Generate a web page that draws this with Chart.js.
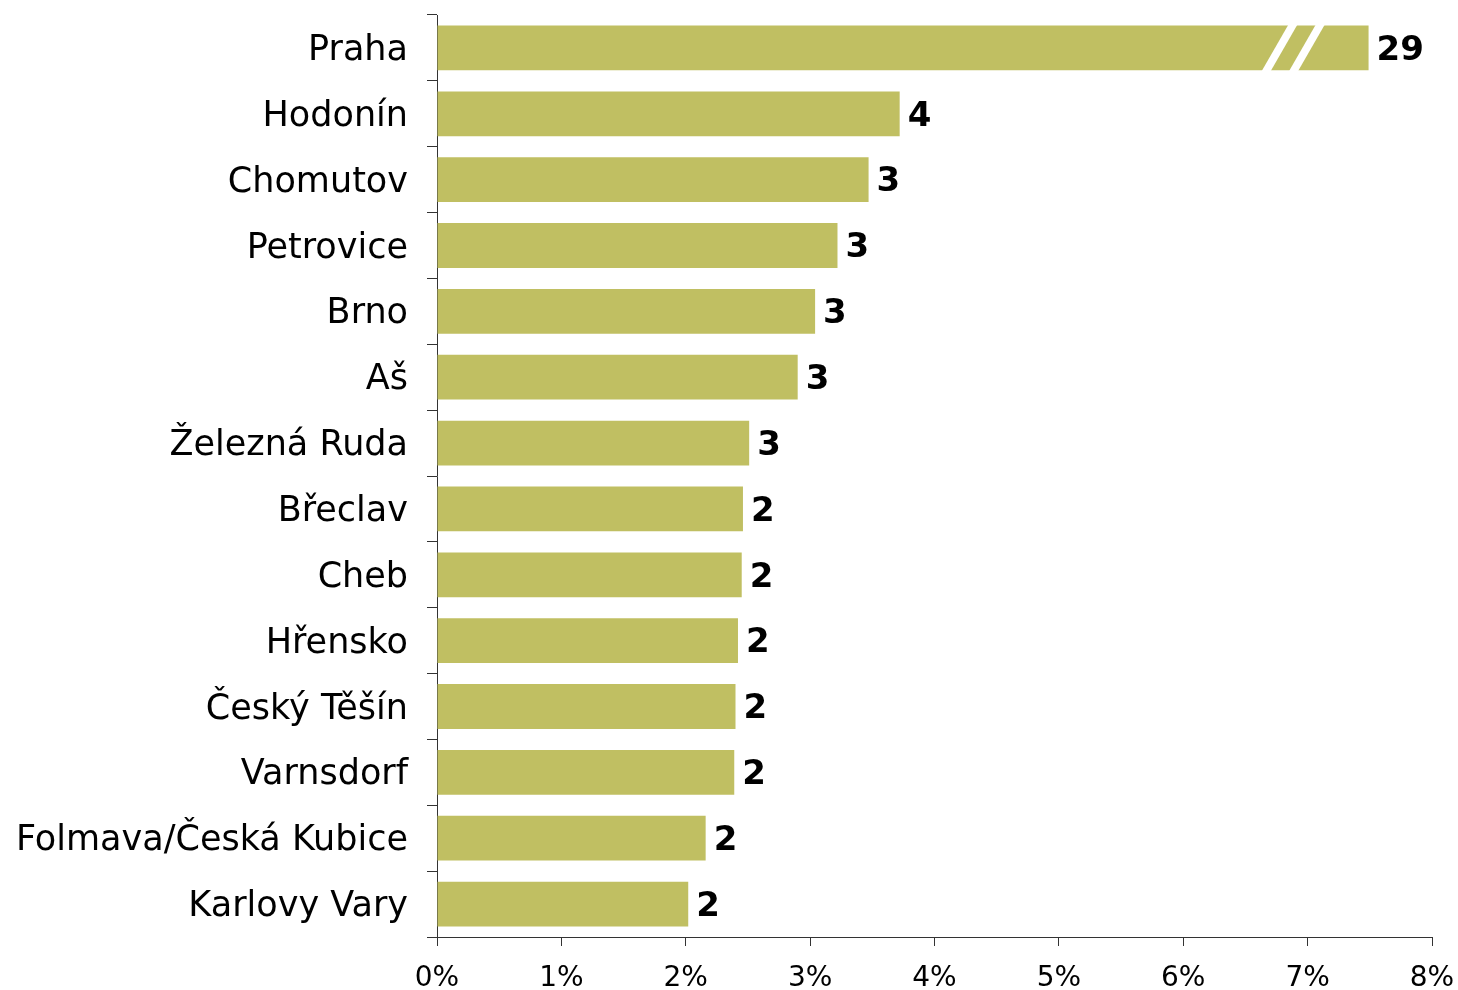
<!DOCTYPE html>
<html>
<head>
<meta charset="utf-8">
<script src="https://cdn.jsdelivr.net/npm/chart.js@4/dist/chart.umd.min.js"></script>
<style>
  html, body { margin: 0; padding: 0; background: #fff; }
  #wrap { width: 1458px; height: 990px; position: relative; }
</style>
</head>
<body>
<div id="wrap"><canvas id="myChart"></canvas></div>
<script>
// border crossings, top to bottom
const cities = [
  'Praha', 'Hodonín', 'Chomutov', 'Petrovice', 'Brno', 'Aš', 'Železná Ruda',
  'Břeclav', 'Cheb', 'Hřensko', 'Český Těšín', 'Varnsdorf',
  'Folmava/Česká Kubice', 'Karlovy Vary'
];

// bar length in % as drawn (Praha is cut off, real value is in the label)
const shares = [7.49, 3.72, 3.47, 3.22, 3.04, 2.90, 2.51, 2.46, 2.45, 2.42, 2.40, 2.39, 2.16, 2.02];

// labels printed at the end of each bar
const valueLabels = ['29', '4', '3', '3', '3', '3', '3', '2', '2', '2', '2', '2', '2', '2'];

// x axis ticks (percent)
const xTicks = [0, 1, 2, 3, 4, 5, 6, 7, 8];

// where the Praha bar gets its "//" break marks (in %)
const breakAt = [6.63, 6.85];

const FONT = 'Verdana, "DejaVu Sans", sans-serif';
const BAR_COLOR = '#c0bf62';
const AXIS_COLOR = '#333';

//draw the numbers and the break marks on top of the bars
const barExtras = {
  id: 'barExtras',
  afterDatasetsDraw(chart) {
    const ctx = chart.ctx;
    const meta = chart.getDatasetMeta(0);
    const xScale = chart.scales.x;

    // break marks on the first bar
    const first = meta.data[0];
    const top = first.y - first.height / 2;
    const bottom = first.y + first.height / 2;
    const slant = first.height * 0.6;
    ctx.save();
    ctx.fillStyle = '#fff';
    breakAt.forEach(v => {
      const x0 = xScale.getPixelForValue(v);
      ctx.beginPath();
      ctx.moveTo(x0, bottom + 1);
      ctx.lineTo(x0 + 9, bottom + 1);
      ctx.lineTo(x0 + 9 + slant, top - 1);
      ctx.lineTo(x0 + slant, top - 1);
      ctx.closePath();
      ctx.fill();
    });

    // value labels
    ctx.fillStyle = '#000';
    ctx.font = 'bold 34px ' + FONT;
    ctx.textAlign = 'left';
    ctx.textBaseline = 'middle';
    meta.data.forEach((bar, i) => {
      ctx.fillText(valueLabels[i], bar.x + 8, bar.y + 3);
    });
    ctx.restore();
  }
};

const config = {
  type: 'bar',
  data: {
    labels: cities,
    datasets: [{
      data: shares,
      backgroundColor: BAR_COLOR,
      borderWidth: 0,
      barPercentage: 0.68,
      categoryPercentage: 1
    }]
  },
  options: {
    indexAxis: 'y',
    responsive: true,
    maintainAspectRatio: false,
    animation: false,
    layout: {
      padding: { top: 15, right: 26, bottom: 0, left: 0 }
    },
    plugins: {
      legend: { display: false },
      tooltip: { enabled: false }
    },
    scales: {
      x: {
        min: xTicks[0],
        max: xTicks[xTicks.length - 1],
        afterBuildTicks(scale) {
          scale.ticks = xTicks.map(v => ({ value: v }));
        },
        afterFit(scale) {
          scale.height = 53;
          scale.paddingLeft = 0;
          scale.paddingRight = 0;
        },
        grid: {
          drawOnChartArea: false,
          tickLength: 9,
          color: AXIS_COLOR
        },
        border: { color: AXIS_COLOR, width: 1 },
        ticks: {
          padding: 16,
          color: '#000',
          font: { family: FONT, size: 28 },
          callback: v => v + '%',
          maxRotation: 0
        }
      },
      y: {
        afterFit(scale) {
          scale.width = 437;
          scale.paddingTop = 0;
          scale.paddingBottom = 0;
        },
        grid: {
          offset: true,
          drawOnChartArea: false,
          tickLength: 10,
          color: AXIS_COLOR
        },
        border: { color: AXIS_COLOR, width: 1 },
        ticks: {
          padding: 19,
          labelOffset: 3,
          color: '#000',
          font: { family: FONT, size: 35 }
        }
      }
    }
  },
  plugins: [barExtras]
};

const myChart = new Chart(document.getElementById('myChart'), config);
</script>
</body>
</html>
